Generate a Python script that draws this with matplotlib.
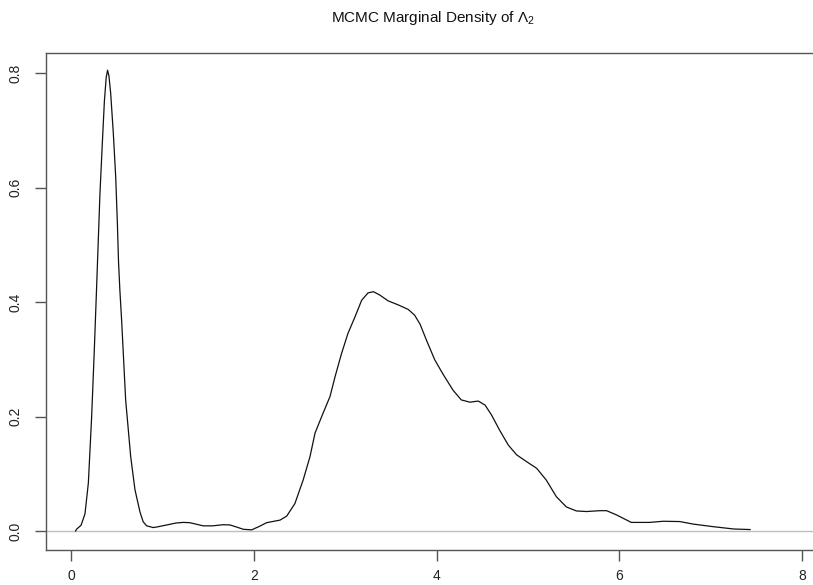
import matplotlib
matplotlib.use("Agg")
import matplotlib.pyplot as plt
from matplotlib import font_manager

# ---- data ----
dens_x = [0.05, 0.06, 0.11, 0.153, 0.19, 0.226, 0.255, 0.28, 0.317, 0.343, 0.365,
          0.385, 0.40, 0.415, 0.434, 0.463, 0.489, 0.507, 0.52, 0.535, 0.554, 0.598,
          0.653, 0.70, 0.755, 0.79, 0.828, 0.90, 0.94, 1.047, 1.15, 1.23, 1.30, 1.447,
          1.55, 1.667, 1.74, 1.81, 1.885, 1.977, 2.06, 2.14, 2.287, 2.36, 2.45, 2.54,
          2.615, 2.67, 2.743, 2.834, 2.89, 2.96, 3.03, 3.107, 3.18, 3.25, 3.31, 3.38,
          3.47, 3.58, 3.69, 3.76, 3.82, 3.89, 3.98, 4.07, 4.18, 4.27, 4.365, 4.456,
          4.53, 4.60, 4.69, 4.785, 4.876, 4.986, 5.095, 5.2, 5.31, 5.42, 5.53, 5.64,
          5.79, 5.86, 5.97, 6.13, 6.33, 6.48, 6.66, 6.81, 7.03, 7.25, 7.43]
dens_y = [0.0, 0.003, 0.010, 0.030, 0.084, 0.200, 0.316, 0.425, 0.590, 0.678, 0.750,
          0.792, 0.805, 0.795, 0.765, 0.695, 0.619, 0.540, 0.470, 0.420, 0.368, 0.229,
          0.130, 0.072, 0.033, 0.016, 0.009, 0.006, 0.007, 0.0105, 0.014, 0.015, 0.0145, 0.009,
          0.009, 0.011, 0.0105, 0.007, 0.003, 0.002, 0.008, 0.0145, 0.019, 0.026, 0.048, 0.089,
          0.130, 0.171, 0.200, 0.235, 0.270, 0.310, 0.345, 0.374, 0.403, 0.416, 0.418, 0.412,
          0.402, 0.395, 0.387, 0.377, 0.361, 0.333, 0.299, 0.274, 0.246, 0.229, 0.225, 0.227,
          0.220, 0.203, 0.176, 0.150, 0.133, 0.121, 0.1095, 0.089, 0.060, 0.042, 0.035, 0.034,
          0.0355, 0.0355, 0.028, 0.015, 0.015, 0.017, 0.0165, 0.012, 0.0075, 0.0035, 0.0025]

x_ticks = [0, 2, 4, 6, 8]
x_tick_labels = ["0", "2", "4", "6", "8"]
y_ticks = [0.0, 0.2, 0.4, 0.6, 0.8]
y_tick_labels = ["0.0", "0.2", "0.4", "0.6", "0.8"]
title = r"MCMC Marginal Density of $\Lambda_2$"

# ---- fonts ----
names = {f.name for f in font_manager.fontManager.ttflist}
fam = "Liberation Sans Narrow" if "Liberation Sans Narrow" in names else "Liberation Sans"
plt.rcParams["font.family"] = [fam, "DejaVu Sans"]
plt.rcParams["mathtext.fontset"] = "custom"
plt.rcParams["mathtext.rm"] = fam
plt.rcParams["mathtext.it"] = fam
plt.rcParams["mathtext.default"] = "regular"

W, H = 813, 585
fig = plt.figure(figsize=(W / 100, H / 100), dpi=100)
ax = fig.add_axes([46 / W, 35 / H, (820 - 46) / W, (550 - 53) / H])

ax.plot(dens_x, dens_y, color="#111111", lw=0.9)
ax.axhline(0, color="#bebebe", lw=1.0, zorder=0)

ax.set_xlim(-0.2735, 8.195)
ax.set_ylim(-0.0332, 0.835)

ax.set_xticks(x_ticks)
ax.set_xticklabels(x_tick_labels)
ax.set_yticks(y_ticks)
ax.set_yticklabels(y_tick_labels, rotation=90, va="center")

for s in ax.spines.values():
    s.set_color("#555555")
    s.set_linewidth(1.0)
ax.spines["right"].set_visible(False)

ax.tick_params(axis="both", direction="out", length=8, width=1.0, color="#555555",
               labelsize=10, labelcolor="#222222")
ax.tick_params(axis="x", pad=6)
ax.tick_params(axis="y", pad=9)

fig.text(433 / W, 1 - 18 / H, title, ha="center", va="center", fontsize=11, color="#111111")

fig.savefig("out.png", dpi=100)
